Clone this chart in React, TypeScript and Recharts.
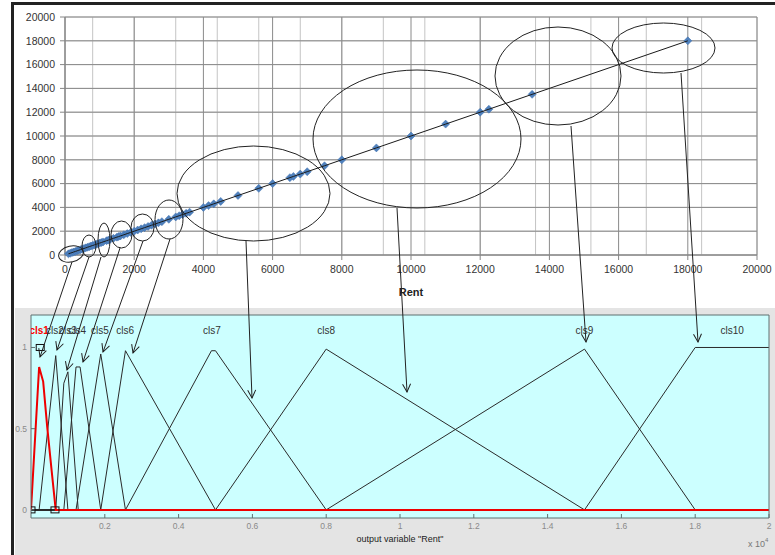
import React from "react";
import {
  ScatterChart,
  Scatter,
  XAxis,
  YAxis,
  CartesianGrid,
  ComposedChart,
  Line,
} from "recharts";

// ---- top chart: Rent vs Rent scatter ----
const RENT = [
  100, 150, 200, 250, 300, 350, 400, 450, 500, 550, 600, 650, 700, 750, 800, 850, 900, 950,
  1000, 1050, 1100, 1200, 1250, 1300, 1400, 1500, 1550, 1600, 1700, 1800, 1900, 2000, 2100,
  2200, 2300, 2400, 2500, 2600, 2700, 2800, 3000, 3200, 3300, 3400, 3500, 3600, 4000, 4150,
  4300, 4500, 5000, 5600, 6000, 6500, 6600, 6800, 7000, 7500, 8000, 9000, 10000, 11000,
  12000, 12250, 13500, 18000,
];
const TOP_TICKS = [0, 2000, 4000, 6000, 8000, 10000, 12000, 14000, 16000, 18000, 20000];
const MINOR_GRID = Array.from({ length: 51 }, (_, i) => i * 400);

// ---- bottom chart: membership functions of output "Rent" (x 10^4) ----
const MF_TICKS = [0.2, 0.4, 0.6, 0.8, 1, 1.2, 1.4, 1.6, 1.8, 2];
const MF_Y_TICKS = [0, 0.5, 1];
const CLS1 = [[0, 0], [0.011, 0.44], [0.022, 0.88], [0.033, 0.79], [0.044, 0.51], [0.056, 0.24], [0.067, 0], [2, 0]];
const CLS2 = [[0, 0], [0.022, 0], [0.067, 0.95], [0.1, 0], [2, 0]];
const CLS3 = [[0, 0], [0.067, 0], [0.089, 0.78], [0.1, 0.85], [0.128, 0], [2, 0]];
const CLS4 = [[0, 0], [0.089, 0], [0.122, 0.88], [0.133, 0.88], [0.189, 0], [2, 0]];
const CLS5 = [[0, 0], [0.122, 0], [0.189, 0.96], [0.256, 0], [2, 0]];
const CLS6 = [[0, 0], [0.189, 0], [0.256, 0.98], [0.5, 0], [2, 0]];
const CLS7 = [[0, 0], [0.256, 0], [0.489, 0.98], [0.5, 0.98], [0.8, 0], [2, 0]];
const CLS8 = [[0, 0], [0.5, 0], [0.8, 0.99], [1.5, 0], [2, 0]];
const CLS9 = [[0, 0], [0.8, 0], [1.5, 0.99], [1.8, 0], [2, 0]];
const CLS10 = [[0, 0], [1.5, 0], [1.8, 1], [2, 1]];
const MF_NAMES = ["cls1", "cls2", "cls3", "cls4", "cls5", "cls6", "cls7", "cls8", "cls9", "cls10"];
const MF_LABEL_X = [0.022, 0.065, 0.1, 0.125, 0.187, 0.255, 0.49, 0.8, 1.5, 1.9];
const MF_HANDLES = [[0, 0], [0.025, 1], [0.065, 0]];

// hand-drawn annotations (pixel space): ellipses [cx, cy, rx, ry, rot] and arrows [x1, y1, x2, y2]
const ELLIPSES = [
  [71, 254, 12.5, 8, -12], [89, 246, 7, 11, 0], [104, 240, 6, 17, 0], [121.5, 234.5, 10.5, 13.5, 0],
  [142.5, 227.5, 11.5, 13.5, 0], [169, 219.5, 14, 19.5, 0], [253.5, 193.5, 76.5, 47.5, 0],
  [417, 139, 104, 69, 0], [558, 76, 63, 49, 0], [663.5, 48, 51.5, 25, 0],
];
const ARROWS = [
  [72, 262, 40, 357], [89, 257, 57, 350], [101, 257, 67, 370], [120, 248, 83, 362],
  [143, 241, 103, 352], [170, 239, 133, 353], [246, 241, 252, 398], [397, 208, 407, 392],
  [571, 126, 586, 342], [681, 73, 698, 342],
];

const points = RENT.map((r) => ({ x: r, y: r }));
const toXY = (a: number[][]) => a.map(([x, y]) => ({ x, y }));
const BLACK_MFS = [CLS2, CLS3, CLS4, CLS5, CLS6, CLS7, CLS8, CLS9, CLS10].map(toXY);
const labels = MF_NAMES.map((name, i) => ({ x: MF_LABEL_X[i], y: 1.1, name }));
const handles = toXY(MF_HANDLES);

const XL_FONT = { fontSize: 10.5, fill: "#333", fontFamily: "Liberation Sans, Arial, sans-serif" };
const ML_FONT = { fontSize: 8.5, fill: "#8a8a8a", fontFamily: "Liberation Sans, Arial, sans-serif" };

const Diamond = (p: any) => {
  const { cx, cy } = p;
  return (
    <polygon
      points={`${cx},${cy - 4} ${cx + 4},${cy} ${cx},${cy + 4} ${cx - 4},${cy}`}
      fill="#4f81bd"
      stroke="#3d6fae"
      strokeWidth={0.5}
    />
  );
};

const Nothing = () => <g />;

const MfLabel = (p: any) => {
  const { cx, cy, payload } = p;
  const first = payload.name === "cls1";
  return (
    <text
      x={cx}
      y={cy}
      textAnchor="middle"
      dominantBaseline="middle"
      fontSize={10}
      fontFamily="Liberation Sans, Arial, sans-serif"
      fontWeight={first ? 700 : 400}
      fill={first ? "#ff0000" : "#333"}
    >
      {payload.name}
    </text>
  );
};

const Handle = (p: any) => {
  const { cx, cy } = p;
  return <rect x={cx - 4} y={cy - 3} width={8} height={6} fill="none" stroke="#111" strokeWidth={1} />;
};

function RentScatter() {
  return (
    <ScatterChart width={775} height={300} margin={{ top: 17, right: 18, left: 0, bottom: 0 }}>
      <CartesianGrid verticalValues={MINOR_GRID} horizontalValues={MINOR_GRID} stroke="#c4c4c4" />
      <CartesianGrid verticalValues={TOP_TICKS} horizontalValues={TOP_TICKS} stroke="#8a8a8a" />
      <XAxis
        type="number"
        dataKey="x"
        domain={[0, 20000]}
        ticks={TOP_TICKS}
        tick={XL_FONT}
        tickSize={5}
        tickMargin={6}
        stroke="#868686"
        height={45}
        label={{ value: "Rent", position: "insideBottom", offset: 4, style: { ...XL_FONT, fontSize: 11, fontWeight: 700, fill: "#222" } }}
      />
      <YAxis
        type="number"
        dataKey="y"
        domain={[0, 20000]}
        ticks={TOP_TICKS}
        tick={XL_FONT}
        tickSize={5}
        tickMargin={5}
        stroke="#868686"
        width={65}
      />
      <Scatter data={points} shape={Diamond} isAnimationActive={false} />
      <Scatter data={points} shape={Nothing} line={{ stroke: "#1a1a1a", strokeWidth: 1 }} isAnimationActive={false} />
    </ScatterChart>
  );
}

function MfPlot() {
  return (
    <ComposedChart width={760} height={247} margin={{ top: 6, right: 5, left: 0, bottom: 0 }}>
      <rect x={16} y={7} width={738} height={203} fill="#ccffff" />
      <XAxis
        type="number"
        dataKey="x"
        domain={[0, 2]}
        ticks={MF_TICKS}
        allowDataOverflow
        tick={ML_FONT}
        tickSize={-4}
        tickMargin={9}
        stroke="#5f7070"
        height={37}
        label={{ value: 'output variable "Rent"', position: "insideBottom", offset: 13, style: { fontSize: 9, fill: "#222", fontFamily: "Liberation Sans, Arial, sans-serif" } }}
      />
      <XAxis xAxisId="t" orientation="top" type="number" domain={[0, 2]} ticks={MF_TICKS} tick={false} tickSize={-4} stroke="#5f7070" height={1} />
      <YAxis
        type="number"
        domain={[-0.05, 1.2]}
        ticks={MF_Y_TICKS}
        allowDataOverflow
        tick={ML_FONT}
        tickSize={-4}
        tickMargin={8}
        stroke="#5f7070"
        width={16}
      />
      <YAxis yAxisId="r" orientation="right" type="number" domain={[-0.05, 1.2]} ticks={MF_Y_TICKS} tick={false} tickSize={-4} stroke="#5f7070" width={1} />
      {BLACK_MFS.map((d, i) => (
        <Line key={i} data={d} dataKey="y" type="linear" stroke="#2a2a2a" strokeWidth={1} dot={false} isAnimationActive={false} />
      ))}
      <Line data={toXY(CLS1)} dataKey="y" type="linear" stroke="#ee0000" strokeWidth={2} dot={false} isAnimationActive={false} />
      <Scatter data={handles} dataKey="y" shape={Handle} isAnimationActive={false} />
      <Scatter data={labels} dataKey="y" shape={MfLabel} isAnimationActive={false} />
    </ComposedChart>
  );
}

export default function App() {
  return (
    <div style={{ position: "absolute", left: 0, top: 0, width: 775, height: 555, background: "#fff", overflow: "hidden" }}>
      <div style={{ position: "absolute", left: 0, top: 0 }}>
        <RentScatter />
      </div>
      <div style={{ position: "absolute", left: 15, top: 308, width: 760, height: 247, background: "#e4e4e4" }}>
        <MfPlot />
      </div>
      <svg width={775} height={555} style={{ position: "absolute", left: 0, top: 0, pointerEvents: "none" }}>
        <defs>
          <marker id="ah" markerUnits="userSpaceOnUse" markerWidth={10} markerHeight={10} refX={9} refY={5} orient="auto">
            <path d="M1,1 L9,5 L1,9" fill="none" stroke="#222" strokeWidth={1} />
          </marker>
        </defs>
        <rect x={11} y={2} width={3} height={553} fill="#222" />
        <rect x={11} y={2} width={764} height={3} fill="#222" />
        {ELLIPSES.map(([cx, cy, rx, ry, rot], i) => (
          <ellipse key={i} cx={cx} cy={cy} rx={rx} ry={ry} transform={`rotate(${rot} ${cx} ${cy})`} fill="none" stroke="#222" strokeWidth={1} />
        ))}
        {ARROWS.map(([x1, y1, x2, y2], i) => (
          <line key={i} x1={x1} y1={y1} x2={x2} y2={y2} stroke="#222" strokeWidth={1} markerEnd="url(#ah)" />
        ))}
        <text x={748} y={547} fontSize={9} fill="#777" fontFamily="Liberation Sans, Arial, sans-serif">
          x 10<tspan dy={-5} fontSize={6}>4</tspan>
        </text>
      </svg>
    </div>
  );
}
